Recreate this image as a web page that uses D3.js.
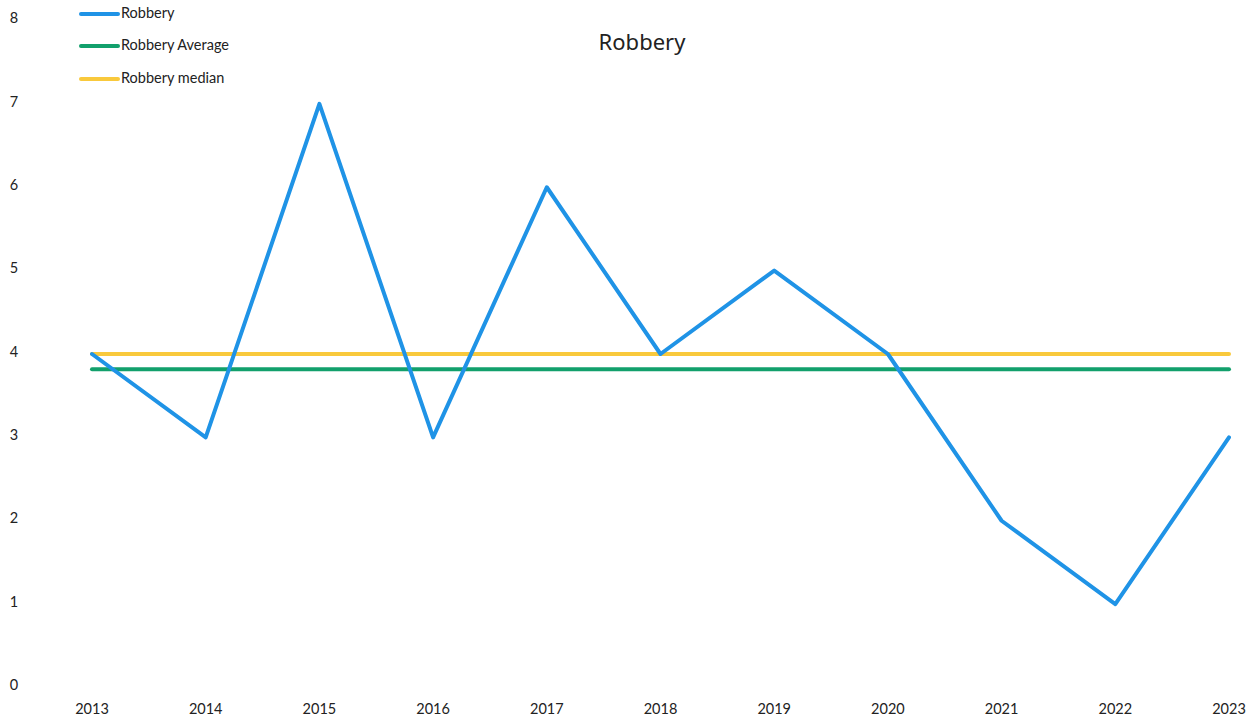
<!DOCTYPE html>
<html>
<head>
<meta charset="utf-8">
<script src="https://cdn.jsdelivr.net/npm/d3@7"></script>
<style>
  html, body { margin: 0; padding: 0; background: #fff; }
  svg { display: block; }
  .tick-label { font-family: Lato, "Liberation Sans", sans-serif; font-size: 14.5px; fill: #222; }
  .legend-label { font-family: Lato, "Liberation Sans", sans-serif; font-size: 14.5px; fill: #222; }
  .title { font-family: "Noto Sans", "Open Sans", sans-serif; font-size: 22px; fill: #222; }
</style>
</head>
<body>
<svg id="chart" width="1255" height="721"></svg>
<script>
// Yearly robbery counts
const years = ["2013", "2014", "2015", "2016", "2017", "2018", "2019", "2020", "2021", "2022", "2023"];
const robbery = [4, 3, 7, 3, 6, 4, 5, 4, 2, 1, 3];
const yTicks = [0, 1, 2, 3, 4, 5, 6, 7, 8];
const seriesNames = ["Robbery", "Robbery Average", "Robbery median"];
const seriesColors = ["#1f93e6", "#12a06c", "#f9c93c"];

const avg = d3.mean(robbery);
const med = d3.median(robbery);

const svg = d3.select("#chart");

const x = d3.scalePoint().domain(years).range([92, 1229]);
const y = d3.scaleLinear().domain([0, 8]).range([687.5, 20.5]);

// Y axis labels (no axis line)
svg.append("g").selectAll("text").data(yTicks).join("text")
  .attr("class", "tick-label")
  .attr("x", 14).attr("y", d => y(d) - 1)
  .attr("text-anchor", "middle").attr("dominant-baseline", "middle")
  .text(d => d);

// X axis labels
svg.append("g").selectAll("text").data(years).join("text")
  .attr("class", "tick-label")
  .attr("x", d => x(d)).attr("y", 710)
  .attr("text-anchor", "middle").attr("dominant-baseline", "middle")
  .text(d => d);

// Title
svg.append("text").attr("class", "title")
  .attr("x", 642).attr("y", 44)
  .attr("text-anchor", "middle").attr("dominant-baseline", "middle")
  .text("Robbery");

const line = d3.line().x((d, i) => x(years[i])).y(d => y(d));

// Median and average reference lines
const medianData = robbery.map(() => med);
const averageData = robbery.map(() => avg);

svg.append("path").datum(medianData)
  .attr("d", line).attr("fill", "none")
  .attr("stroke", seriesColors[2]).attr("stroke-width", 4)
  .attr("stroke-linecap", "round");

svg.append("path").datum(averageData)
  .attr("d", line).attr("fill", "none")
  .attr("stroke", seriesColors[1]).attr("stroke-width", 4)
  .attr("stroke-linecap", "round");

svg.append("path").datum(robbery)
  .attr("d", line).attr("fill", "none")
  .attr("stroke", seriesColors[0]).attr("stroke-width", 4)
  .attr("stroke-linejoin", "round").attr("stroke-linecap", "round");

// Legend
const legend = svg.append("g");
const legendY = [14, 46, 79];
seriesNames.forEach((name, i) => {
  legend.append("line")
    .attr("x1", 81).attr("x2", 118)
    .attr("y1", legendY[i]).attr("y2", legendY[i])
    .attr("stroke", seriesColors[i]).attr("stroke-width", 4)
    .attr("stroke-linecap", "round");
  legend.append("text").attr("class", "legend-label")
    .attr("x", 121).attr("y", legendY[i])
    .attr("dominant-baseline", "middle")
    .text(name);
});
</script>
</body>
</html>
